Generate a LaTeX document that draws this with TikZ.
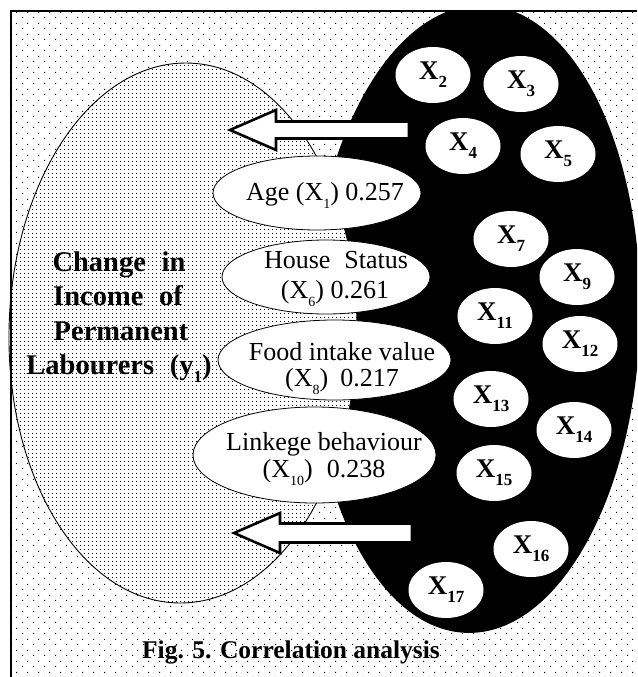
\documentclass[tikz,border=0pt]{standalone}
\usepackage{fontspec}
\setmainfont{Liberation Serif}
\newfontfamily\titlefont[WordSpace=2.2]{Liberation Serif}
\usetikzlibrary{patterns,shapes.geometric}

% sparse staggered dots for the panel, dense grid for the dependent-variable ellipse
\pgfdeclarepatternformonly{sparsedots}{\pgfpoint{0pt}{0pt}}{\pgfpoint{11pt}{11pt}}{\pgfpoint{11pt}{11pt}}{%
  \pgfpathrectangle{\pgfpoint{0pt}{0pt}}{\pgfpoint{1.1pt}{1.1pt}}%
  \pgfpathrectangle{\pgfpoint{5.5pt}{5.5pt}}{\pgfpoint{1.1pt}{1.1pt}}%
  \pgfusepath{fill}}
\pgfdeclarepatternformonly{densedots}{\pgfpoint{0pt}{0pt}}{\pgfpoint{4.2pt}{4.2pt}}{\pgfpoint{4.2pt}{4.2pt}}{%
  \pgfpathrectangle{\pgfpoint{0pt}{0pt}}{\pgfpoint{0.9pt}{0.9pt}}%
  \pgfusepath{fill}}

\newcommand\xsub[1]{\raisebox{-8pt}{\fontsize{17}{17}\selectfont #1}}
\newcommand\lsub[1]{\raisebox{-8pt}{\fontsize{14}{14}\selectfont #1}}

\tikzset{
  xnode/.style={ellipse, fill=white, minimum width=75pt, minimum height=56pt,
    inner sep=0pt, font=\fontsize{27}{30}\selectfont\bfseries},
  factor/.style={ellipse, fill=white, draw=black, line width=0.8pt, inner sep=0pt},
  labeltext/.style={anchor=base, inner sep=0pt, font=\fontsize{26}{28}\selectfont},
  titletext/.style={anchor=base, inner sep=0pt, font=\titlefont\bfseries\fontsize{28.5}{32}\selectfont},
  captiontext/.style={anchor=base, inner sep=0pt, font=\bfseries\fontsize{25.5}{28}\selectfont},
  bigarrow/.style={fill=white, draw=black, line width=2.6pt, line join=miter},
}

\begin{document}
\begin{tikzpicture}[x=1pt, y=-1pt]
\useasboundingbox (0,0) rectangle (637,677);

% dotted panel
\fill[pattern=sparsedots] (11,11) rectangle (637,677);

% black field of the independent variables
\begin{scope}
  \clip (11,11) rectangle (637,677);
  \fill[black, rotate around={-1.5:(475,319)}] (475,319) ellipse [x radius=165pt, y radius=314pt];
\end{scope}

% dependent-variable ellipse
\draw[line width=0.9pt, pattern=densedots, preaction={fill=white}, rotate around={-1:(183,333)}]
  (183,333) ellipse [x radius=174pt, y radius=270pt];

\node[titletext] (t1) at (119,271) {Change in};
\node[titletext] (t2) at (118,305.5) {Income of};
\node[titletext] (t3) at (121,340) {Permanent};
\node[titletext] (t4) at (119,374.5) {Labourers (y\xsub{1})};

% significant factors
\node[factor, minimum width=208pt, minimum height=74pt] (age) at (317,193) {};
\node[factor, minimum width=208pt, minimum height=74pt] (house) at (326,277) {};
\node[factor, minimum width=233pt, minimum height=80pt] (food) at (334.5,360) {};
\node[factor, minimum width=243pt, minimum height=96pt] (link) at (314.5,455) {};

\node[labeltext] (agetxt) at (325,200) {Age (X\lsub{1}) 0.257};
\node[labeltext] (house1) at (336,268) {House\hspace{14pt}Status};
\node[labeltext] (house2) at (335,298) {(X\lsub{6}) 0.261};
\node[labeltext] (food1) at (342,360) {Food intake value};
\node[labeltext] (food2) at (342,386) {(X\lsub{8})\hspace{12pt}0.217};
\node[labeltext] (link1) at (324,450) {Linkege behaviour};
\node[labeltext] (link2) at (324,477) {(X\lsub{10})\hspace{14pt}0.238};

% other variables
\node[xnode] (x2)  at (433,75)  {X\xsub{2}};
\node[xnode] (x3)  at (521,84)  {X\xsub{3}};
\node[xnode] (x4)  at (463,146) {X\xsub{4}};
\node[xnode] (x5)  at (558,154) {X\xsub{5}};
\node[xnode] (x7)  at (511,239) {X\xsub{7}};
\node[xnode] (x9)  at (577,277) {X\xsub{9}};
\node[xnode] (x11) at (495,316) {X\xsub{11}};
\node[xnode] (x12) at (580,344) {X\xsub{12}};
\node[xnode] (x13) at (491,399) {X\xsub{13}};
\node[xnode] (x14) at (574,430) {X\xsub{14}};
\node[xnode] (x15) at (494,473) {X\xsub{15}};
\node[xnode] (x16) at (531,549) {X\xsub{16}};
\node[xnode] (x17) at (446,590) {X\xsub{17}};

% block arrows
\draw[bigarrow] (409,121.5) -- (276,121.5) -- (276,110) -- (230,130) -- (276,150)
  -- (276,138.5) -- (409,138.5) -- cycle;
\draw[bigarrow] (412,523.5) -- (280,523.5) -- (280,513) -- (234,533) -- (280,553)
  -- (280,542.5) -- (412,542.5) -- cycle;

\node[captiontext] (cap) at (291,658) {Fig. 5. Correlation analysis};

% frame
\draw[line width=1.4pt] (11,677) -- (11,11) -- (637,11);
\end{tikzpicture}
\end{document}
